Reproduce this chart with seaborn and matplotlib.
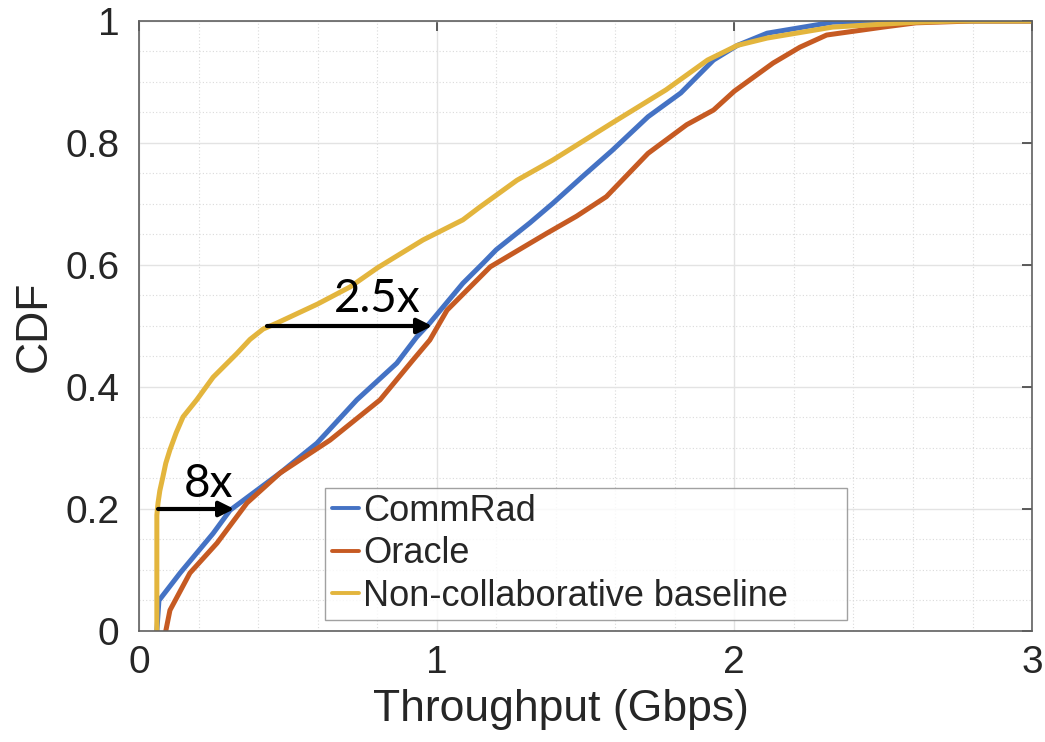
import numpy as np
import pandas as pd
import matplotlib
matplotlib.use("Agg")
import matplotlib.pyplot as plt
import seaborn as sns
from matplotlib.ticker import MultipleLocator, FixedLocator

# ---- data ----
series_names = ["CommRad", "Oracle", "Non-collaborative baseline"]

commrad_x = [0.06, 0.067, 0.138, 0.249, 0.306, 0.474, 0.598, 0.732, 0.866, 0.933,
             0.977, 1.088, 1.156, 1.2, 1.313, 1.39, 1.49, 1.59, 1.71, 1.82, 1.93,
             2.01, 2.11, 2.33, 2.45, 3.0]
commrad_y = [0.0, 0.05, 0.095, 0.16, 0.198, 0.259, 0.308, 0.379, 0.439, 0.482,
             0.505, 0.57, 0.603, 0.625, 0.669, 0.701, 0.745, 0.788, 0.843, 0.882, 0.936,
             0.96, 0.98, 0.998, 1.0, 1.0]

oracle_x = [0.09, 0.104, 0.171, 0.262, 0.363, 0.474, 0.642, 0.81, 0.92, 0.977,
            1.035, 1.18, 1.37, 1.47, 1.57, 1.71, 1.84, 1.93, 2.0, 2.13, 2.22, 2.31,
            2.5, 2.61, 2.8, 3.0]
oracle_y = [0.0, 0.034, 0.095, 0.144, 0.21, 0.259, 0.313, 0.379, 0.444, 0.477,
            0.526, 0.597, 0.652, 0.68, 0.712, 0.783, 0.83, 0.854, 0.885, 0.931, 0.957, 0.977,
            0.99, 0.997, 1.0, 1.0]

baseline_x = [0.06, 0.06, 0.064, 0.07, 0.08, 0.09, 0.104, 0.125, 0.148, 0.194,
              0.249, 0.329, 0.373, 0.417, 0.464, 0.6, 0.709, 0.8, 0.954, 1.088, 1.145,
              1.27, 1.39, 1.59, 1.77, 1.91, 2.01, 2.11, 2.33, 2.61, 2.75, 3.0]
baseline_y = [0.0, 0.19, 0.21, 0.23, 0.252, 0.275, 0.297, 0.325, 0.351, 0.379,
              0.416, 0.455, 0.478, 0.495, 0.505, 0.536, 0.564, 0.595, 0.641, 0.674, 0.695,
              0.739, 0.772, 0.833, 0.887, 0.936, 0.96, 0.972, 0.99, 0.998, 1.0, 1.0]

x_ticks = [0, 1, 2, 3]
y_ticks = [0, 0.2, 0.4, 0.6, 0.8, 1.0]
y_tick_labels = ["0", "0.2", "0.4", "0.6", "0.8", "1"]

# annotations: label, arrow start x, arrow end x, y level, text x, text y
annot_labels = ["2.5x", "8x"]
annot_from_x = [0.43, 0.064]
annot_to_x = [0.985, 0.32]
annot_level = [0.5, 0.2]
annot_text_x = [0.8, 0.235]
annot_text_y = [0.545, 0.241]

colors = ["#4472C4", "#C65A22", "#E3B53D"]

frames = []
for name, xs, ys in [(series_names[0], commrad_x, commrad_y),
                     (series_names[1], oracle_x, oracle_y),
                     (series_names[2], baseline_x, baseline_y)]:
    frames.append(pd.DataFrame({"Throughput": xs, "CDF": ys, "Method": name}))
df = pd.concat(frames, ignore_index=True)

sns.set_style("white")
plt.rcParams["font.family"] = ["Liberation Sans", "DejaVu Sans"]

fig = plt.figure(figsize=(10.45, 7.42), dpi=100)
ax = fig.add_axes([0.133, 0.1496, 0.8546, 0.8221])

sns.lineplot(data=df, x="Throughput", y="CDF", hue="Method", hue_order=series_names,
             palette=colors, sort=False, estimator=None, units="Method",
             linewidth=3.6, ax=ax, legend=True)

ax.set_xlim(0, 3)
ax.set_ylim(0, 1)
ax.xaxis.set_major_locator(FixedLocator(x_ticks))
ax.yaxis.set_major_locator(FixedLocator(y_ticks))
ax.set_yticklabels(y_tick_labels)
ax.xaxis.set_minor_locator(MultipleLocator(0.2))
ax.yaxis.set_minor_locator(MultipleLocator(0.05))

ax.grid(which="major", color="#E3E3E3", linewidth=1.0, linestyle="-")
ax.grid(which="minor", color="#DADADA", linewidth=0.8, linestyle=(0, (1, 2)))
ax.set_axisbelow(True)

for sp in ax.spines.values():
    sp.set_color("#606060")
    sp.set_linewidth(1.2)

ax.tick_params(which="major", direction="in", length=7, width=1.2, color="#404040",
               top=True, right=True, labelsize=28, labelcolor="#262626")
ax.tick_params(axis="y", which="major", pad=14)
ax.tick_params(axis="x", which="major", pad=10)
ax.tick_params(which="minor", length=0, top=True, right=True)

ax.set_xlabel("Throughput (Gbps)", fontsize=32, color="#262626", labelpad=6)
ax.xaxis.label.set_x(0.472)
ax.set_ylabel("CDF", fontsize=32, color="#262626", labelpad=8)

leg = ax.legend(loc="lower left", bbox_to_anchor=(0.2083, 0.018, 0.5845, 0.0),
                mode="expand", fontsize=26,
                frameon=True, fancybox=False, edgecolor="#8A8A8A",
                handlelength=0.75, handletextpad=0.12, borderpad=0.18,
                labelspacing=0.2, borderaxespad=0.0)
leg.get_frame().set_linewidth(1.0)
for ln in leg.get_lines():
    ln.set_linewidth(2.8)

for lab, x0, x1, yl, tx, ty in zip(annot_labels, annot_from_x, annot_to_x,
                                   annot_level, annot_text_x, annot_text_y):
    ax.annotate("", xy=(x1, yl), xytext=(x0, yl),
                arrowprops=dict(arrowstyle="-|>,head_length=0.9,head_width=0.45",
                                color="black", linewidth=3, shrinkA=0, shrinkB=0),
                zorder=5)
    ax.text(tx, ty, lab, fontsize=33, family=["Lato", "DejaVu Sans"],
            ha="center", va="center", color="black", zorder=6)

fig.savefig("out.png", dpi=100)
